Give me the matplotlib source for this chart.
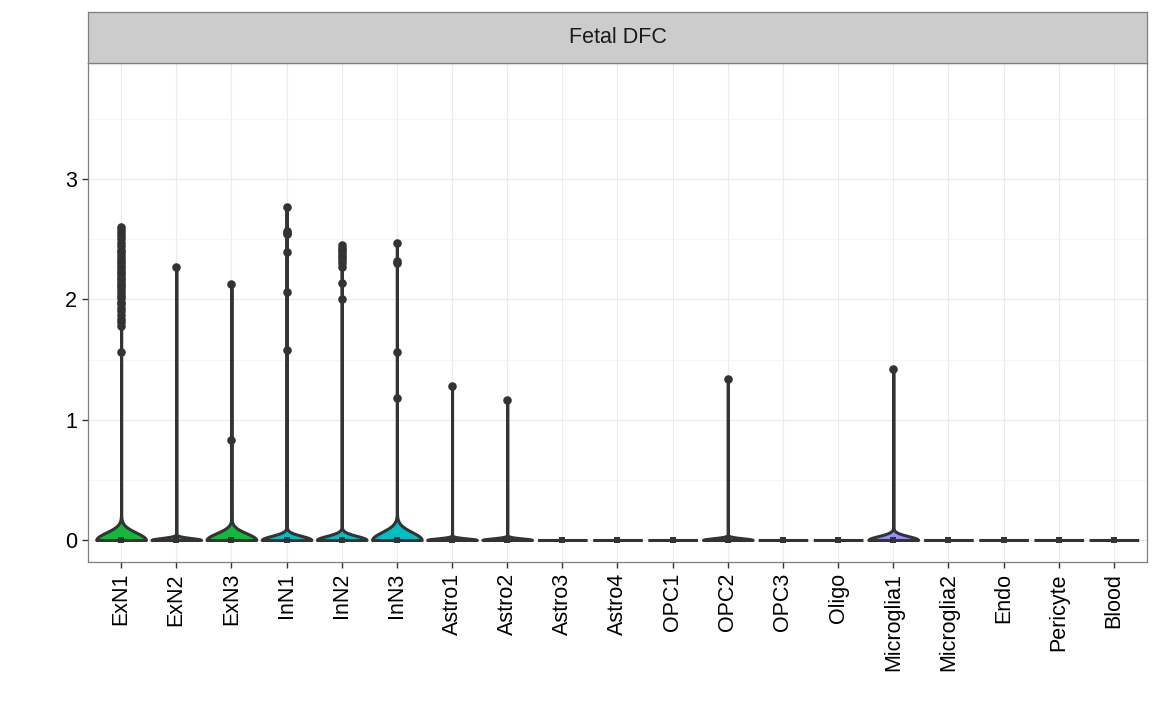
import numpy as np
import matplotlib
matplotlib.use('Agg')
import matplotlib.pyplot as plt

plt.rcParams['font.family'] = ['Liberation Sans', 'DejaVu Sans']

# ── data ──
categories = ['ExN1', 'ExN2', 'ExN3', 'InN1', 'InN2', 'InN3', 'Astro1', 'Astro2',
              'Astro3', 'Astro4', 'OPC1', 'OPC2', 'OPC3', 'Oligo', 'Microglia1',
              'Microglia2', 'Endo', 'Pericyte', 'Blood']

# non-zero expression values
nonzero = {
    'ExN1': [2.60, 2.58, 2.55, 2.53, 2.50, 2.47, 2.44, 2.41, 2.39, 2.37, 2.34, 2.32,
             2.30, 2.28, 2.26, 2.24, 2.22, 2.20, 2.18, 2.16, 2.14, 2.12, 2.10, 2.08,
             2.05, 2.03, 2.01, 1.98, 1.96, 1.93, 1.90, 1.87, 1.84, 1.81, 1.78, 1.56],
    'ExN2': [2.27],
    'ExN3': [2.13, 0.83],
    'InN1': [2.77, 2.57, 2.55, 2.54, 2.39, 2.06, 1.58],
    'InN2': [2.45, 2.43, 2.41, 2.39, 2.37, 2.35, 2.33, 2.30, 2.27, 2.14, 2.00],
    'InN3': [2.47, 2.32, 2.30, 1.565, 1.18],
    'Astro1': [1.28],
    'Astro2': [1.165],
    'OPC2': [1.335],
    'Microglia1': [1.42],
}

# number of cells at zero
n_zero = [900, 400, 500, 600, 600, 300, 300, 300, 200, 200, 200, 300, 200, 200,
          150, 100, 100, 100, 100]

# kernel bandwidth of each violin (data units)
bandwidth = [0.062, 0.016, 0.056, 0.034, 0.034, 0.066, 0.013, 0.013, 0.0, 0.0,
             0.0, 0.014, 0.0, 0.0, 0.032, 0.0, 0.0, 0.0, 0.0]

GREEN = '#12BA3B'
CYAN = '#00BFC4'
PURPLE = '#9590FF'
fill_colors = [GREEN, GREEN, GREEN, CYAN, CYAN, CYAN, '#F8766D', '#F8766D',
               '#F8766D', '#F8766D', '#D89000', '#D89000', '#D89000', '#A3A500',
               PURPLE, PURPLE, '#E76BF3', '#FF62BC', '#00B0F6']

DARK = '#333333'
FS = 15.5

# ── figure ──
fig = plt.figure(figsize=(11.52, 7.1), dpi=100)
W, H = 1152, 710
left, right = 88 / W, 1147 / W
pbot, ptop = (H - 562) / H, (H - 63) / H
ax = fig.add_axes([left, pbot, right - left, ptop - pbot])
strip = fig.add_axes([left, ptop, right - left, 51 / H])

positions = np.arange(len(categories))
datasets = []
for c, n0 in zip(categories, n_zero):
    datasets.append(np.concatenate([np.zeros(n0), np.array(nonzero.get(c, []), float)]))

# gridlines
ax.set_axisbelow(True)
ax.set_yticks([0, 1, 2, 3])
ax.set_yticks([0.5, 1.5, 2.5, 3.5], minor=True)
ax.grid(which='major', color='#EBEBEB', linewidth=0.8)
ax.grid(which='minor', axis='y', color='#F4F4F4', linewidth=0.6)

for i, (d, bw) in enumerate(zip(datasets, bandwidth)):
    if bw > 0:
        bw_m = bw / np.std(d)
    else:
        bw_m = 'scott'
    parts = ax.violinplot([d], positions=[positions[i]], widths=0.9, points=1500,
                          showextrema=False, bw_method=bw_m)
    for pc in parts['bodies']:
        pc.set_facecolor(fill_colors[i])
        pc.set_edgecolor(DARK)
        pc.set_linewidth(2.2)
        pc.set_alpha(1)
        pc.set_zorder(2)
    nz = nonzero.get(categories[i], [])
    if nz:
        ax.scatter(np.full(len(nz), positions[i]), nz, s=38, color=DARK, zorder=3,
                   linewidths=0)
    # cells at zero
    ax.scatter([positions[i]], [0], marker='s', s=14, color=DARK, zorder=3, linewidths=0)

ax.set_xlim(-0.6, len(categories) - 0.4)
ax.set_ylim(-0.183, 3.965)
ax.set_xticks(positions)
ax.set_xticklabels(categories, rotation=90, fontsize=FS, color='black')
ax.tick_params(axis='y', labelsize=FS, labelcolor='black')
ax.tick_params(which='major', color=DARK, length=4.5, width=1.0, pad=3.5)
ax.tick_params(which='minor', length=0)
for s in ax.spines.values():
    s.set_color('#7F7F7F')
    s.set_linewidth(0.9)

# facet strip
strip.set_facecolor('#CCCCCC')
strip.set_xticks([])
strip.set_yticks([])
for s in strip.spines.values():
    s.set_color('#7F7F7F')
    s.set_linewidth(0.9)
strip.text(0.5, 0.5, 'Fetal DFC', ha='center', va='center', fontsize=FS,
           color='#1A1A1A', transform=strip.transAxes)

fig.savefig('out.png', dpi=100)
